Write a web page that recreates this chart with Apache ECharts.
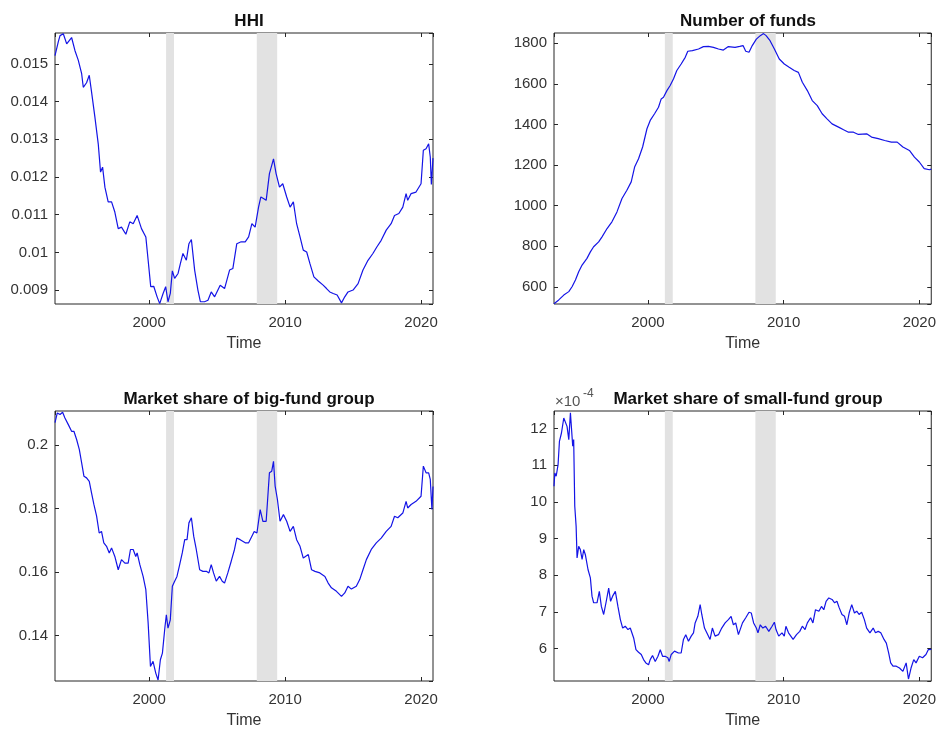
<!DOCTYPE html>
<html>
<head>
<meta charset="utf-8">
<script src="https://cdn.jsdelivr.net/npm/echarts@6/dist/echarts.min.js"></script>
<style>
html,body{margin:0;padding:0;background:#fff;}
#chart{width:939px;height:734px;}
</style>
</head>
<body>
<div id="chart"></div>
<script>
// ---------------- data ----------------
const panelTitles = ['HHI', 'Number of funds', 'Market share of big-fund group', 'Market share of small-fund group'];
const xTickLabels = [2000, 2010, 2020];
const recessions = [[2001.25, 2001.83], [2007.92, 2009.42]];

const hhiYears = [1993.08,1993.33,1993.45,1993.69,1993.94,1994.30,1994.55,1994.79,1995.04,1995.16,1995.40,1995.60,1995.77,1996.01,1996.26,1996.43,1996.58,1996.75,1996.99,1997.24,1997.48,1997.73,1997.97,1998.29,1998.58,1998.83,1999.12,1999.44,1999.76,1999.93,2000.12,2000.34,2000.59,2000.78,2001.03,2001.22,2001.39,2001.56,2001.71,2001.88,2002.13,2002.30,2002.49,2002.74,2002.93,2003.11,2003.35,2003.59,2003.77,2004.08,2004.33,2004.57,2004.82,2005.23,2005.55,2005.92,2006.16,2006.45,2006.77,2007.07,2007.32,2007.56,2007.80,2008.05,2008.22,2008.41,2008.61,2008.85,2009.02,2009.15,2009.34,2009.59,2009.83,2010.12,2010.37,2010.61,2010.85,2011.10,2011.34,2011.59,2011.83,2012.12,2012.44,2012.80,2013.05,2013.29,2013.54,2013.83,2014.15,2014.39,2014.63,2015.00,2015.37,2015.73,2016.10,2016.46,2016.76,2017.07,2017.44,2017.80,2018.05,2018.37,2018.66,2018.90,2019.02,2019.27,2019.63,2020.00,2020.17,2020.37,2020.56,2020.68,2020.76,2020.88];
const hhiValues = [0.01522,0.0156,0.01575,0.0158,0.01553,0.0157,0.01535,0.0151,0.01474,0.01438,0.0145,0.0147,0.01425,0.0136,0.01288,0.01213,0.01226,0.01173,0.01134,0.01134,0.01107,0.01063,0.01067,0.01048,0.01081,0.01076,0.01098,0.01063,0.01041,0.00979,0.00909,0.0091,0.00882,0.00864,0.00891,0.00909,0.00869,0.00891,0.00951,0.00931,0.00944,0.0097,0.00997,0.00979,0.01023,0.01034,0.00953,0.009,0.00869,0.00869,0.00873,0.00895,0.00882,0.00913,0.00904,0.00953,0.00957,0.01023,0.01028,0.01028,0.01041,0.01076,0.01067,0.0112,0.01147,0.01143,0.01138,0.01209,0.01231,0.01248,0.01209,0.01173,0.01182,0.01147,0.0112,0.01134,0.01076,0.01041,0.01006,0.01001,0.0097,0.00935,0.00924,0.00913,0.00904,0.00895,0.00891,0.00887,0.00866,0.00882,0.00895,0.009,0.00917,0.00953,0.00979,0.00997,0.01015,0.01032,0.01059,0.01076,0.01098,0.01103,0.0112,0.01156,0.01138,0.01156,0.0116,0.01182,0.01271,0.01275,0.01288,0.01253,0.0118,0.0125];

const fundYears = [1993.08,1993.43,1993.80,1994.17,1994.41,1994.66,1994.90,1995.15,1995.51,1995.76,1996.00,1996.37,1996.62,1996.99,1997.35,1997.72,1998.09,1998.45,1998.77,1999.02,1999.31,1999.61,1999.93,2000.17,2000.49,2000.78,2000.98,2001.15,2001.40,2001.64,2001.89,2002.13,2002.45,2002.75,2002.94,2003.28,2003.73,2004.09,2004.46,2004.83,2005.20,2005.56,2005.93,2006.42,2006.77,2007.01,2007.21,2007.45,2007.69,2007.99,2008.28,2008.52,2008.71,2009.00,2009.32,2009.68,2010.05,2010.41,2010.78,2011.09,2011.38,2011.75,2012.11,2012.48,2012.84,2013.20,2013.57,2014.05,2014.42,2014.78,2015.15,2015.51,2016.12,2016.48,2016.97,2017.45,2017.94,2018.37,2018.79,2019.27,2019.64,2020.00,2020.36,2020.75,2020.88];
const fundValues = [516,535,559,576,600,633,674,707,740,772,797,821,846,887,920,969,1035,1076,1117,1190,1231,1289,1379,1420,1453,1485,1526,1534,1567,1592,1625,1666,1698,1731,1761,1764,1772,1784,1785,1780,1772,1767,1784,1780,1785,1789,1761,1756,1789,1821,1838,1848,1838,1813,1772,1723,1698,1682,1666,1657,1608,1567,1518,1493,1453,1428,1403,1387,1374,1362,1362,1351,1354,1338,1330,1321,1313,1313,1289,1272,1239,1215,1182,1177,1180];

const bigYears = [1993.08,1993.25,1993.45,1993.64,1993.81,1994.06,1994.30,1994.47,1994.67,1994.87,1995.04,1995.21,1995.40,1995.60,1995.77,1995.94,1996.14,1996.33,1996.50,1996.67,1996.87,1997.07,1997.24,1997.48,1997.73,1997.97,1998.22,1998.46,1998.63,1998.83,1999.02,1999.12,1999.32,1999.56,1999.76,1999.93,2000.10,2000.29,2000.49,2000.66,2000.83,2000.98,2001.17,2001.27,2001.39,2001.56,2001.71,2001.88,2002.05,2002.25,2002.44,2002.62,2002.79,2002.93,2003.11,2003.28,2003.47,2003.72,2003.96,2004.21,2004.40,2004.57,2004.74,2004.94,2005.18,2005.38,2005.55,2005.79,2006.04,2006.28,2006.45,2006.70,2007.07,2007.32,2007.56,2007.73,2007.93,2008.17,2008.37,2008.61,2008.85,2009.02,2009.15,2009.27,2009.44,2009.63,2009.88,2010.12,2010.37,2010.61,2010.85,2011.10,2011.34,2011.71,2011.95,2012.20,2012.56,2012.93,2013.17,2013.41,2013.78,2014.15,2014.39,2014.63,2014.88,2015.24,2015.49,2015.73,2015.98,2016.34,2016.71,2017.07,2017.44,2017.80,2018.05,2018.29,2018.66,2018.90,2019.02,2019.27,2019.63,2020.00,2020.17,2020.37,2020.56,2020.68,2020.80,2020.88];
const bigValues = [0.2071,0.2102,0.2097,0.2104,0.2086,0.2065,0.2044,0.2044,0.2018,0.1986,0.1944,0.1902,0.1897,0.1886,0.1849,0.1813,0.1776,0.1723,0.1728,0.1692,0.1681,0.166,0.1676,0.1649,0.1607,0.1639,0.1628,0.1628,0.1671,0.1671,0.1649,0.166,0.1623,0.1586,0.1544,0.1439,0.1302,0.1318,0.1281,0.1259,0.1323,0.1344,0.1428,0.1465,0.1423,0.1449,0.1555,0.1571,0.1586,0.1623,0.166,0.1702,0.1702,0.1755,0.1771,0.1713,0.1671,0.1607,0.1602,0.1602,0.1597,0.1623,0.1597,0.1571,0.1586,0.1571,0.1565,0.1597,0.1634,0.1671,0.1707,0.1702,0.1692,0.1692,0.1713,0.1728,0.1723,0.1797,0.176,0.176,0.1913,0.1918,0.1949,0.1871,0.1828,0.176,0.1781,0.176,0.1728,0.1744,0.1702,0.1681,0.1644,0.1655,0.1607,0.1602,0.1597,0.1586,0.1565,0.155,0.1539,0.1523,0.1534,0.1555,0.1546,0.1555,0.1576,0.1607,0.1639,0.1671,0.1692,0.1707,0.1728,0.1744,0.1776,0.1771,0.1786,0.1823,0.1802,0.1813,0.1823,0.1839,0.1934,0.1913,0.1913,0.1892,0.1797,0.187];

// small-fund market share, in units of 1e-4
const smallYears = [1993.08,1993.14,1993.24,1993.38,1993.48,1993.63,1993.80,1993.92,1994.04,1994.17,1994.29,1994.36,1994.46,1994.53,1994.61,1994.71,1994.78,1994.90,1995.02,1995.15,1995.27,1995.39,1995.59,1995.76,1995.88,1996.00,1996.25,1996.42,1996.57,1996.74,1996.91,1997.11,1997.25,1997.40,1997.60,1997.79,1997.97,1998.14,1998.33,1998.53,1998.70,1998.95,1999.12,1999.31,1999.51,1999.68,1999.85,2000.05,2000.17,2000.34,2000.54,2000.74,2000.91,2001.08,2001.27,2001.47,2001.57,2001.72,2001.96,2002.25,2002.45,2002.62,2002.79,2002.99,2003.19,2003.36,2003.48,2003.68,2003.85,2003.97,2004.17,2004.34,2004.58,2004.75,2004.95,2005.20,2005.44,2005.69,2005.93,2006.13,2006.30,2006.47,2006.67,2006.97,2007.21,2007.45,2007.62,2007.79,2007.99,2008.11,2008.28,2008.47,2008.67,2008.91,2009.15,2009.32,2009.44,2009.64,2009.88,2010.05,2010.17,2010.36,2010.53,2010.70,2010.95,2011.19,2011.38,2011.58,2011.75,2011.99,2012.16,2012.35,2012.60,2012.79,2012.96,2013.13,2013.33,2013.57,2013.76,2013.93,2014.10,2014.30,2014.49,2014.66,2014.83,2015.02,2015.22,2015.39,2015.56,2015.75,2015.95,2016.12,2016.36,2016.60,2016.77,2016.97,2017.16,2017.40,2017.57,2017.74,2017.89,2018.06,2018.30,2018.54,2018.79,2019.03,2019.20,2019.39,2019.59,2019.76,2020.00,2020.24,2020.49,2020.66,2020.80,2020.88];
const smallValues = [10.43,10.79,10.70,11.02,11.65,11.88,12.29,12.29,12.06,11.70,12.43,12.48,11.52,11.70,9.88,9.34,8.47,8.79,8.70,8.43,8.70,8.56,8.15,7.93,7.43,7.25,7.25,7.56,7.15,6.93,7.25,7.65,7.29,7.43,7.56,7.15,6.79,6.56,6.61,6.52,6.56,6.29,5.97,5.90,5.84,5.70,5.61,5.56,5.70,5.81,5.65,5.79,5.97,5.79,5.79,5.75,5.65,5.84,5.93,5.88,5.88,6.25,6.38,6.20,6.34,6.43,6.70,6.88,7.20,6.93,6.56,6.43,6.25,6.56,6.34,6.38,6.56,6.70,6.79,6.88,6.65,6.70,6.38,6.70,6.84,6.99,6.97,6.70,6.56,6.43,6.65,6.56,6.61,6.47,6.61,6.72,6.52,6.34,6.43,6.34,6.61,6.43,6.34,6.25,6.38,6.47,6.61,6.52,6.70,6.84,6.70,7.06,7.02,7.15,7.06,7.29,7.38,7.34,7.25,7.29,7.11,6.93,6.88,6.65,6.97,7.20,6.97,7.02,6.93,6.99,6.79,6.56,6.43,6.56,6.43,6.47,6.43,6.25,6.15,5.88,5.61,5.52,5.52,5.47,5.38,5.61,5.17,5.47,5.70,5.61,5.79,5.75,5.84,5.97,6.02,5.98];

// ---------------- chart ----------------
const FONT = '"Liberation Sans", Arial, Helvetica, sans-serif';
const TICK_COLOR = '#333333';
const LINE_COLOR = '#1414e6';

const grids = [
  {left: 55, top: 33, width: 378, height: 271},
  {left: 554, top: 33, width: 378, height: 271},
  {left: 55, top: 411, width: 378, height: 270},
  {left: 554, top: 411, width: 378, height: 270}
];
const yRanges = [
  {min: 0.00863, max: 0.01582, step: 0.001},
  {min: 515, max: 1851, step: 200},
  {min: 0.1256, max: 0.2108, step: 0.02},
  {min: 5.116, max: 12.48, step: 1}
];
const series = [
  [hhiYears, hhiValues],
  [fundYears, fundValues],
  [bigYears, bigValues],
  [smallYears, smallValues]
];

const xAxes = [], yAxes = [], seriesOpt = [], titles = [];
const X_MIN = 1993.08, X_MAX = 2020.88;

function xAxisDef(g, pos, show) {
  return {
    type: 'value', gridIndex: g, position: pos, min: X_MIN, max: X_MAX,
    minInterval: 10, maxInterval: 10,
    axisLine: {show: false},
    axisTick: {show: true, inside: true, length: 4, lineStyle: {color: '#262626', width: 1}},
    splitLine: {show: false},
    axisLabel: {show: show, showMinLabel: false, showMaxLabel: false, color: TICK_COLOR,
      fontSize: 15, fontFamily: FONT, margin: 11, formatter: v => String(Math.round(v))},
    name: show ? 'Time' : '', nameLocation: 'middle', nameGap: 32,
    nameTextStyle: {fontSize: 16, fontFamily: FONT, color: TICK_COLOR}
  };
}
function yAxisDef(g, pos, show, r) {
  return {
    type: 'value', gridIndex: g, position: pos, min: r.min, max: r.max,
    minInterval: r.step, maxInterval: r.step,
    axisLine: {show: false},
    axisTick: {show: true, inside: true, length: 4, lineStyle: {color: '#262626', width: 1}},
    splitLine: {show: false},
    axisLabel: {show: show, showMinLabel: false, showMaxLabel: false, color: TICK_COLOR,
      fontSize: 15, fontFamily: FONT, margin: 7,
      formatter: v => String(parseFloat(v.toPrecision(6)))}
  };
}

for (let i = 0; i < 4; i++) {
  xAxes[i] = xAxisDef(i, 'bottom', true);
  xAxes[i + 4] = xAxisDef(i, 'top', false);
  yAxes[i] = yAxisDef(i, 'left', true, yRanges[i]);
  yAxes[i + 4] = yAxisDef(i, 'right', false, yRanges[i]);
  const [xs, ys] = series[i];
  seriesOpt.push({
    type: 'line', xAxisIndex: i, yAxisIndex: i,
    data: xs.map((x, k) => [x, ys[k]]),
    showSymbol: false, symbol: 'none', smooth: false,
    lineStyle: {color: LINE_COLOR, width: 1.2},
    clip: true, animation: false, z: 3,
    markArea: {
      silent: true,
      itemStyle: {color: '#e2e2e2', opacity: 1},
      data: recessions.map(r => [{xAxis: r[0]}, {xAxis: r[1]}])
    }
  });
  const g = grids[i];
  titles.push({
    text: panelTitles[i], left: g.left + g.width / 2, top: g.top - 25, textAlign: 'center',
    textStyle: {fontSize: 17, fontWeight: 'bold', color: '#111', fontFamily: FONT}
  });
}

const chart = echarts.init(document.getElementById('chart'), null, {renderer: 'canvas'});
chart.setOption({
  backgroundColor: '#ffffff',
  animation: false,
  title: titles,
  grid: grids.map(g => Object.assign({show: true, borderColor: '#262626', borderWidth: 1, backgroundColor: 'transparent'}, g)),
  xAxis: xAxes,
  yAxis: yAxes,
  series: seriesOpt,
  graphic: [
    {type: 'text', left: 555, top: 394, style: {text: '×10', font: '15px ' + FONT, fill: '#555'}},
    {type: 'text', left: 583, top: 388, style: {text: '-4', font: '12px ' + FONT, fill: '#555'}}
  ]
});
</script>
</body>
</html>
